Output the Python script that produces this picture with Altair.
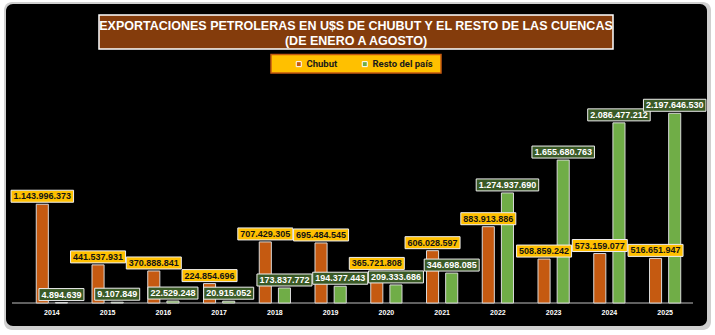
import altair as alt
import pandas as pd

years = ["2014", "2015", "2016", "2017", "2018", "2019", "2020", "2021", "2022", "2023", "2024", "2025"]
chubut = [1143996373, 441537931, 370888841, 224854696, 707429305, 695484545,
          365721808, 606028597, 883913886, 508859242, 573159077, 516651947]
resto = [4894639, 9107849, 22529248, 20915052, 173837772, 194377443,
         209333686, 346698085, 1274937690, 1655680763, 2086477212, 2197646530]
series = ["Chubut", "Resto del país"]
title_lines = ["EXPORTACIONES PETROLERAS EN U$S DE CHUBUT Y EL RESTO DE LAS CUENCAS",
               "(DE ENERO A AGOSTO)"]

TFONT = "Liberation Sans"
LFONT = "Roboto"
LBL = "Liberation Sans"


def fmt(v):
    return f"{v:,}".replace(",", ".")


def box_path(label):
    w = sum(5.0 if ch.isdigit() else 2.5 for ch in label) + 5
    hw = w / 2 / 50
    hh = 6 / 50
    return f"M{-hw:.4f},{-hh:.4f}L{hw:.4f},{-hh:.4f}L{hw:.4f},{hh:.4f}L{-hw:.4f},{hh:.4f}Z"


rows = []
for yr, c, r in zip(years, chubut, resto):
    rows.append({"year": yr, "serie": series[0], "value": c, "label": fmt(c)})
    rows.append({"year": yr, "serie": series[1], "value": r, "label": fmt(r)})
df = pd.DataFrame(rows)
df["box"] = df["label"].map(box_path)

one = pd.DataFrame({"k": [0]})
yr_df = pd.DataFrame({"year": years})

xscale = alt.Scale(domain=years, range=[24, 693], paddingInner=0.44, paddingOuter=0.22)
xoff = alt.Scale(domain=series, paddingInner=0.37)
yscale = alt.Scale(domain=[0, 3e9], range=[303, 44])

X = alt.X("year:N", scale=xscale, axis=None)
XO = alt.XOffset("serie:N", scale=xoff)
Y = alt.Y("value:Q", scale=yscale, axis=None)

shadow = alt.Chart(one).mark_rect(fill="#cfcfcf", cornerRadius=8).encode(
    x=alt.value(4), x2=alt.value(711), y=alt.value(2), y2=alt.value(330))
panel = alt.Chart(one).mark_rect(fill="#000000", cornerRadius=7).encode(
    x=alt.value(6), x2=alt.value(707), y=alt.value(4), y2=alt.value(326))
tbox = alt.Chart(one).mark_rect(fill="#843C0C", stroke="#ffffff", strokeWidth=1.5).encode(
    x=alt.value(99), x2=alt.value(613), y=alt.value(15), y2=alt.value(49))
t1 = alt.Chart(one).mark_text(font=TFONT, fontWeight="bold", fontSize=12.5, color="#ffffff",
                              align="center", baseline="middle").encode(
    x=alt.value(356), y=alt.value(25.5), text=alt.value(title_lines[0]))
t2 = alt.Chart(one).mark_text(font=TFONT, fontWeight="bold", fontSize=12.5, color="#ffffff",
                              align="center", baseline="middle").encode(
    x=alt.value(356), y=alt.value(40.5), text=alt.value(title_lines[1]))
lbox = alt.Chart(one).mark_rect(fill="#FFC000", stroke="#C55A11", strokeWidth=1.5).encode(
    x=alt.value(271), x2=alt.value(441), y=alt.value(54.5), y2=alt.value(73))

baseline = alt.Chart(one).mark_rule(color="#bfbfbf", strokeWidth=1).encode(
    x=alt.value(12), x2=alt.value(693), y=alt.value(303))

bars = alt.Chart(df).mark_bar(stroke="#d9d9d9", strokeWidth=1).encode(
    x=X, xOffset=XO, y=Y,
    color=alt.Color("serie:N", scale=alt.Scale(domain=series, range=["#C55A11", "#70AD47"]),
                    legend=alt.Legend(orient="none", legendX=294, legendY=59, direction="horizontal",
                                      title=None, symbolType="square", symbolSize=25,
                                      symbolStrokeColor="#ffffff", symbolStrokeWidth=1,
                                      labelFont=LFONT, labelFontSize=9.5, labelFontWeight="bold",
                                      labelColor="#1a1a1a", columnPadding=22, labelOffset=3,
                                      padding=0)))

boxes_c = alt.Chart(df).transform_filter(alt.datum.serie == series[0]).mark_point(
    filled=True, fill="#FFC000", stroke="#eeeeee", strokeWidth=1, size=10000, opacity=1, yOffset=-8
).encode(x=X, xOffset=XO, y=Y, shape=alt.Shape("box:N", scale=None))
boxes_r = alt.Chart(df).transform_filter(alt.datum.serie == series[1]).mark_point(
    filled=True, fill="#3A5A26", stroke="#eeeeee", strokeWidth=1, size=10000, opacity=1, yOffset=-8
).encode(x=X, xOffset=XO, y=Y, shape=alt.Shape("box:N", scale=None))
text_c = alt.Chart(df).transform_filter(alt.datum.serie == series[0]).mark_text(
    font=LBL, fontWeight="bold", fontSize=9, color="#141414", yOffset=-8, baseline="middle", align="center"
).encode(x=X, xOffset=XO, y=Y, text="label:N")
text_r = alt.Chart(df).transform_filter(alt.datum.serie == series[1]).mark_text(
    font=LBL, fontWeight="bold", fontSize=9, color="#ffffff", yOffset=-8, baseline="middle", align="center"
).encode(x=X, xOffset=XO, y=Y, text="label:N")

yr_text = alt.Chart(yr_df).mark_text(font=LBL, fontWeight="bold", fontSize=7, color="#ffffff",
                                     baseline="middle", align="center").encode(
    x=X, y=alt.value(313), text="year:N")

chart = alt.layer(shadow, panel, tbox, t1, t2, lbox, baseline, bars,
                  boxes_c, boxes_r, text_c, text_r, yr_text).properties(
    width=715, height=335, background="#ffffff", padding=0,
    autosize=alt.AutoSizeParams(type="none")
).configure_view(stroke=None)

chart.save("out.html", embed_options={"renderer": "svg", "actions": False})
